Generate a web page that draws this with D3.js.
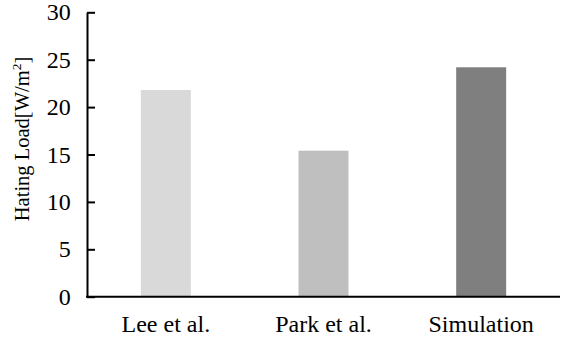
<!DOCTYPE html>
<html><head><meta charset="utf-8">
<script src="https://cdn.jsdelivr.net/npm/d3@7"></script>
<style>body{margin:0;background:#fff}svg{display:block}
svg text{font-family:"Liberation Serif","Times New Roman",serif !important;fill:#000}</style>
</head><body>
<svg id="c" width="561" height="338"></svg>
<script>
const categories = ["Lee et al.", "Park et al.", "Simulation"];
const values = [21.8, 15.4, 24.2];
const colors = ["#d9d9d9", "#bfbfbf", "#7f7f7f"];
const yTicks = [0, 5, 10, 15, 20, 25, 30];

(function () {
const svg = d3.select("#c");
const mLeft = 87, mRight = 560, mTop = 12.3, mBottom = 296.7;

const x = d3.scaleBand().domain(categories).range([mLeft, mRight]).paddingInner(0.683).paddingOuter(0.3415);
const y = d3.scaleLinear().domain([0, 30]).range([mBottom, mTop]);

svg.selectAll("rect.bar").data(values).join("rect")
  .attr("class", "bar")
  .attr("x", (d, i) => x(categories[i]))
  .attr("width", x.bandwidth())
  .attr("y", d => y(d))
  .attr("height", d => y(0) - y(d))
  .attr("fill", (d, i) => colors[i]);

const yAxis = svg.append("g").attr("transform", `translate(${mLeft},0)`)
  .call(d3.axisLeft(y).tickValues(yTicks).tickSizeInner(-8).tickSizeOuter(0).tickPadding(16.3));
yAxis.attr("font-size", null).attr("font-family", null);
yAxis.select(".domain").attr("stroke", "#000").attr("stroke-width", 2);
yAxis.selectAll(".tick line").attr("stroke", "#000").attr("stroke-width", 2);
yAxis.selectAll(".tick text").style("font-size", "24px");

const xAxis = svg.append("g").attr("transform", `translate(0,${mBottom})`)
  .call(d3.axisBottom(x).tickSize(0).tickPadding(18));
xAxis.attr("font-size", null).attr("font-family", null);
xAxis.select(".domain").attr("stroke", "#000").attr("stroke-width", 2)
  .attr("d", `M${mLeft - 1},0H${mRight}`);
xAxis.selectAll(".tick text").style("font-size", "24px");

const lbl = svg.append("text")
  .attr("transform", "translate(29,139) rotate(-90)")
  .attr("text-anchor", "middle")
  .style("font-size", "20.5px");
lbl.append("tspan").text("Hating Load[W/m");
lbl.append("tspan").style("font-size", "13.5px").attr("dy", -8.5).text("2");
lbl.append("tspan").attr("dy", 8.5).text("]");
})();
</script>
</body></html>
